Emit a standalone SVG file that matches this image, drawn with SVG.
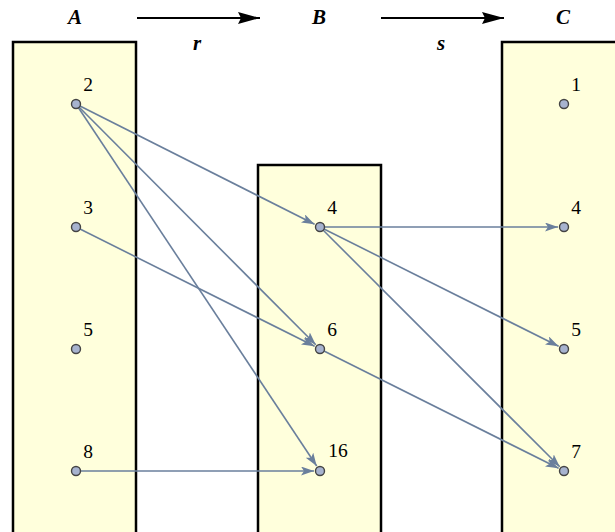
<svg xmlns="http://www.w3.org/2000/svg" width="615" height="532" viewBox="0 0 615 532">
<style>
.box{fill:#ffffdc;stroke:#000;stroke-width:2.5}
.edge{stroke:#6a7f9c;stroke-width:1.6;fill:none;marker-end:url(#ah)}
.pt{fill:#a7b3cf;stroke:#444;stroke-width:1.4}
.lbl{font-family:"Liberation Serif",serif;font-size:19.5px;fill:#000}
.hd{font-family:"Liberation Serif",serif;font-size:21px;font-weight:bold;font-style:italic;fill:#000}
.top{stroke:#000;stroke-width:2;fill:none;marker-end:url(#bh)}
</style>
<defs>
<marker id="ah" markerUnits="userSpaceOnUse" markerWidth="14" markerHeight="10" refX="13" refY="4.5" orient="auto">
<path d="M0,0 L13,4.5 L0,9 L3,4.5 Z" fill="#6a7f9c"/>
</marker>
<marker id="bh" markerUnits="userSpaceOnUse" markerWidth="24" markerHeight="12" refX="22" refY="6" orient="auto">
<path d="M0,0 L22,6 L0,12 L3,6 Z" fill="#000"/>
</marker>
</defs>
<g id="header">
<text class="hd" x="75" y="24" text-anchor="middle">A</text>
<text class="hd" x="319" y="24" text-anchor="middle">B</text>
<text class="hd" x="563" y="24" text-anchor="middle">C</text>
<text class="hd" x="197" y="50" text-anchor="middle">r</text>
<text class="hd" x="441" y="50" text-anchor="middle">s</text>
<line class="top" x1="137" y1="18" x2="260" y2="18"/>
<line class="top" x1="381" y1="18" x2="504" y2="18"/>
</g>
<g id="boxA"><rect class="box" x="13" y="42" width="123" height="492"/></g>
<g id="boxB"><rect class="box" x="258" y="165" width="123" height="369"/></g>
<g id="boxC"><rect class="box" x="502" y="42" width="123" height="492"/></g>
<g id="connectors">
<line class="edge" x1="76" y1="104" x2="314.6" y2="224.3"/>
<line class="edge" x1="76" y1="104" x2="315.8" y2="344.8"/>
<line class="edge" x1="76" y1="104" x2="316.7" y2="466"/>
<line class="edge" x1="76" y1="227" x2="314.6" y2="346.3"/>
<line class="edge" x1="76" y1="471" x2="314" y2="471"/>
<line class="edge" x1="320" y1="227" x2="558" y2="227"/>
<line class="edge" x1="320" y1="227" x2="558.6" y2="346.3"/>
<line class="edge" x1="320" y1="227" x2="559.8" y2="466.8"/>
<line class="edge" x1="320" y1="349" x2="558.6" y2="468.3"/>
</g>
<g id="A2"><circle class="pt" cx="76" cy="104" r="4.5"/><text class="lbl" x="88" y="91" text-anchor="middle">2</text></g>
<g id="A3"><circle class="pt" cx="76" cy="227" r="4.5"/><text class="lbl" x="88" y="214" text-anchor="middle">3</text></g>
<g id="A5"><circle class="pt" cx="76" cy="349" r="4.5"/><text class="lbl" x="88" y="336" text-anchor="middle">5</text></g>
<g id="A8"><circle class="pt" cx="76" cy="471" r="4.5"/><text class="lbl" x="88" y="458" text-anchor="middle">8</text></g>
<g id="B4"><circle class="pt" cx="320" cy="227" r="4.5"/><text class="lbl" x="332" y="214" text-anchor="middle">4</text></g>
<g id="B6"><circle class="pt" cx="320" cy="349" r="4.5"/><text class="lbl" x="332" y="336" text-anchor="middle">6</text></g>
<g id="B16"><circle class="pt" cx="320" cy="471" r="4.5"/><text class="lbl" x="338" y="457" text-anchor="middle">16</text></g>
<g id="C1"><circle class="pt" cx="564" cy="104" r="4.5"/><text class="lbl" x="576" y="91" text-anchor="middle">1</text></g>
<g id="C4"><circle class="pt" cx="564" cy="227" r="4.5"/><text class="lbl" x="576" y="214" text-anchor="middle">4</text></g>
<g id="C5"><circle class="pt" cx="564" cy="349" r="4.5"/><text class="lbl" x="576" y="336" text-anchor="middle">5</text></g>
<g id="C7"><circle class="pt" cx="564" cy="471" r="4.5"/><text class="lbl" x="576" y="458" text-anchor="middle">7</text></g>
</svg>
